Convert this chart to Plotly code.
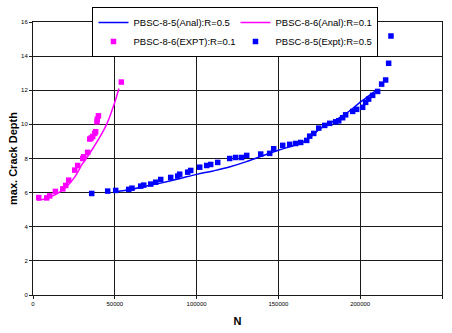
import plotly.graph_objects as go

# PBSC-8-6 experimental (R=0.1)
exp86_n = [3500, 8400, 10200, 13700, 18200, 20000, 21800, 25500, 27300, 30400, 31000,
           33400, 34700, 35500, 36500, 37700, 38300, 39100, 39300, 40000, 54000]
exp86_d = [5.71, 5.69, 5.81, 6.07, 6.22, 6.42, 6.73, 7.32, 7.59, 8.0, 8.1,
           8.36, 9.14, 9.2, 9.29, 9.47, 9.57, 10.15, 10.3, 10.5, 12.48]

# PBSC-8-6 analytical (R=0.1)
anal86_n = [2500, 5000, 10000, 15000, 20000, 25000, 30000, 35000, 40000, 45000, 50000, 52500]
anal86_d = [5.56, 5.58, 5.72, 5.95, 6.3, 6.85, 7.65, 8.35, 9.12, 10.0, 11.3, 12.1]

# PBSC-8-5 experimental (R=0.5)
exp85_n = [35880, 45660, 50550, 58500, 60530, 65830, 67670, 71950, 75000, 78060, 84170,
           88450, 89670, 94560, 96400, 101900, 106170, 108620, 112900, 120230, 123900,
           127570, 130630, 139180, 144680, 147130, 152630, 156910, 160580, 163640, 167310,
           169140, 171590, 174640, 178310, 181370, 185030, 186870, 189280, 191110, 195390,
           197830, 201500, 203330, 205160, 207610, 210660, 213110, 215550, 217390, 218810]
exp85_d = [5.95, 6.09, 6.13, 6.19, 6.26, 6.38, 6.44, 6.5, 6.61, 6.77, 6.89,
           6.97, 7.08, 7.2, 7.3, 7.49, 7.59, 7.65, 7.77, 8.0, 8.06,
           8.06, 8.18, 8.26, 8.3, 8.57, 8.77, 8.83, 8.88, 8.94, 9.06,
           9.31, 9.47, 9.78, 9.94, 10.06, 10.15, 10.21, 10.39, 10.56, 10.76,
           10.88, 11.0, 11.29, 11.48, 11.7, 11.93, 12.36, 12.6, 13.58, 15.18]

# PBSC-8-5 analytical (R=0.5)
anal85_n = [50500, 60000, 70000, 80000, 90000, 100000, 110000, 120000, 130000, 140000,
            150000, 160000, 165000, 170000, 175000, 180000, 185000, 190000, 195000,
            200000, 205000, 210700]
anal85_d = [6.05, 6.2, 6.4, 6.6, 6.83, 7.07, 7.27, 7.5, 7.8, 8.15,
            8.48, 8.78, 8.95, 9.3, 9.7, 10.02, 10.25, 10.55, 10.9,
            11.3, 11.65, 12.05]

x_ticks = [0, 50000, 100000, 150000, 200000, 250000]
y_ticks = [0, 2, 4, 6, 8, 10, 12, 14, 16]

BLUE = "#0000FF"
PINK = "#FF00FF"
FONT = "Liberation Sans, Arial, sans-serif"

fig = go.Figure()
fig.add_trace(go.Scatter(x=anal85_n, y=anal85_d, mode="lines", name="PBSC-8-5(Anal):R=0.5",
                         line=dict(color=BLUE, width=1.5, shape="spline")))
fig.add_trace(go.Scatter(x=anal86_n, y=anal86_d, mode="lines", name="PBSC-8-6(Anal):R=0.1",
                         line=dict(color=PINK, width=1.5, shape="spline")))
fig.add_trace(go.Scatter(x=exp86_n, y=exp86_d, mode="markers", name="PBSC-8-6(EXPT):R=0.1",
                         marker=dict(color=PINK, symbol="square", size=5.5)))
fig.add_trace(go.Scatter(x=exp85_n, y=exp85_d, mode="markers", name="PBSC-8-5(Expt):R=0.5",
                         marker=dict(color=BLUE, symbol="square", size=5.5)))

axis_common = dict(showgrid=True, gridcolor="#1a1a1a", gridwidth=1,
                   showline=True, linecolor="#1a1a1a", linewidth=1, mirror=True,
                   ticks="outside", ticklen=3, tickcolor="#1a1a1a", automargin=False,
                   tickfont=dict(family=FONT, size=6, color="black"), zeroline=False)

fig.update_xaxes(range=[0, 250000], tickvals=x_ticks, ticktext=[str(v) for v in x_ticks],
                 title=dict(text="<b>N</b>", font=dict(family=FONT, size=11, color="black"), standoff=11),
                 **axis_common)
fig.update_yaxes(range=[0, 16], tickvals=y_ticks, ticktext=[str(v) for v in y_ticks],
                 title=dict(text="<b>max. Crack Depth</b>", font=dict(family=FONT, size=11, color="black"),
                            standoff=1),
                 **axis_common)

fig.update_layout(
    width=452, height=333,
    margin=dict(l=33, r=10, t=22, b=38, autoexpand=False),
    paper_bgcolor="white", plot_bgcolor="white",
    font=dict(family=FONT, color="black"),
    legend=dict(orientation="h", x=0.521, xanchor="center", y=0.979, yanchor="top",
                xref="container", yref="container",
                bgcolor="white", bordercolor="black", borderwidth=1,
                font=dict(family=FONT, size=9.5, color="black"),
                entrywidth=97, entrywidthmode="pixels", itemwidth=30),
)

fig.write_html("out.html")
